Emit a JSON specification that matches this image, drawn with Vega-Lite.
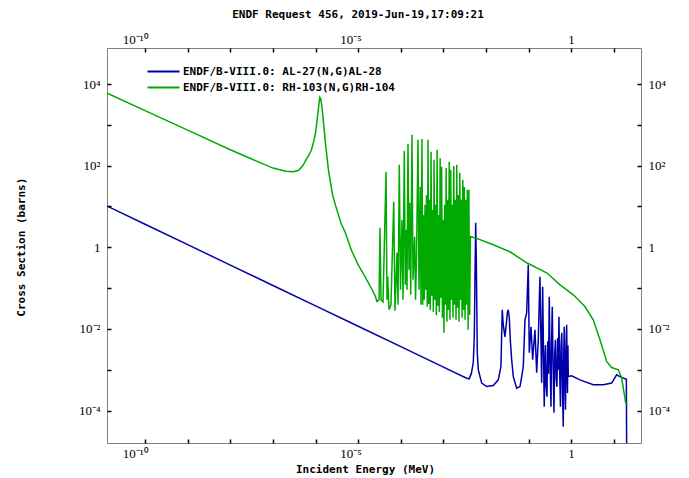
{
  "$schema": "https://vega.github.io/schema/vega-lite/v6.json",
  "width": 534,
  "height": 395,
  "autosize": {"type": "none"},
  "padding": {"left": 107, "top": 48, "right": 48, "bottom": 35},
  "background": "white",
  "title": {"text": "ENDF Request 456, 2019-Jun-19,17:09:21", "font": "DejaVu Sans Mono", "fontSize": 11, "fontWeight": "bold", "color": "#000", "anchor": "middle", "frame": "group", "dx": -16, "offset": 13},
  "config": {
    "view": {"stroke": "#808080", "strokeWidth": 1},
    "axis": {"domain": false, "grid": false, "labelColor": "#000", "labelFont": "Liberation Serif", "labelFontSize": 13, "labelOverlap": false, "labelFlush": false, "labelBound": false, "titleColor": "#000", "titleFont": "DejaVu Sans Mono", "titleFontSize": 11, "titleFontWeight": "bold"}
  },
  "data": {"values": [
    {"energy": 1e-11, "xs": 11.6, "reaction": "ENDF/B-VIII.0: AL-27(N,G)AL-28"},
    {"energy": 1e-10, "xs": 3.67, "reaction": "ENDF/B-VIII.0: AL-27(N,G)AL-28"},
    {"energy": 1e-9, "xs": 1.16, "reaction": "ENDF/B-VIII.0: AL-27(N,G)AL-28"},
    {"energy": 1e-8, "xs": 0.367, "reaction": "ENDF/B-VIII.0: AL-27(N,G)AL-28"},
    {"energy": 1e-7, "xs": 0.116, "reaction": "ENDF/B-VIII.0: AL-27(N,G)AL-28"},
    {"energy": 1e-6, "xs": 0.0367, "reaction": "ENDF/B-VIII.0: AL-27(N,G)AL-28"},
    {"energy": 1e-5, "xs": 0.0116, "reaction": "ENDF/B-VIII.0: AL-27(N,G)AL-28"},
    {"energy": 1e-4, "xs": 0.00367, "reaction": "ENDF/B-VIII.0: AL-27(N,G)AL-28"},
    {"energy": 1e-3, "xs": 0.00116, "reaction": "ENDF/B-VIII.0: AL-27(N,G)AL-28"},
    {"energy": 3.5e-3, "xs": 6.2e-4, "reaction": "ENDF/B-VIII.0: AL-27(N,G)AL-28"},
    {"energy": 4.0e-3, "xs": 6.0e-4, "reaction": "ENDF/B-VIII.0: AL-27(N,G)AL-28"},
    {"energy": 4.5e-3, "xs": 8.0e-4, "reaction": "ENDF/B-VIII.0: AL-27(N,G)AL-28"},
    {"energy": 5.0e-3, "xs": 1.48e-3, "reaction": "ENDF/B-VIII.0: AL-27(N,G)AL-28"},
    {"energy": 5.28e-3, "xs": 6.4e-3, "reaction": "ENDF/B-VIII.0: AL-27(N,G)AL-28"},
    {"energy": 5.48e-3, "xs": 0.16, "reaction": "ENDF/B-VIII.0: AL-27(N,G)AL-28"},
    {"energy": 5.7e-3, "xs": 3.98, "reaction": "ENDF/B-VIII.0: AL-27(N,G)AL-28"},
    {"energy": 5.89e-3, "xs": 0.494, "reaction": "ENDF/B-VIII.0: AL-27(N,G)AL-28"},
    {"energy": 6.21e-3, "xs": 2.6e-3, "reaction": "ENDF/B-VIII.0: AL-27(N,G)AL-28"},
    {"energy": 6.56e-3, "xs": 9.95e-4, "reaction": "ENDF/B-VIII.0: AL-27(N,G)AL-28"},
    {"energy": 7.88e-3, "xs": 4.7e-4, "reaction": "ENDF/B-VIII.0: AL-27(N,G)AL-28"},
    {"energy": 0.01032, "xs": 3.87e-4, "reaction": "ENDF/B-VIII.0: AL-27(N,G)AL-28"},
    {"energy": 0.01472, "xs": 4.1e-4, "reaction": "ENDF/B-VIII.0: AL-27(N,G)AL-28"},
    {"energy": 0.0193, "xs": 5.65e-4, "reaction": "ENDF/B-VIII.0: AL-27(N,G)AL-28"},
    {"energy": 0.0223, "xs": 1.2e-3, "reaction": "ENDF/B-VIII.0: AL-27(N,G)AL-28"},
    {"energy": 0.0239, "xs": 0.0294, "reaction": "ENDF/B-VIII.0: AL-27(N,G)AL-28"},
    {"energy": 0.0253, "xs": 0.0124, "reaction": "ENDF/B-VIII.0: AL-27(N,G)AL-28"},
    {"energy": 0.0277, "xs": 6.4e-3, "reaction": "ENDF/B-VIII.0: AL-27(N,G)AL-28"},
    {"energy": 0.0304, "xs": 0.0167, "reaction": "ENDF/B-VIII.0: AL-27(N,G)AL-28"},
    {"energy": 0.0317, "xs": 0.0262, "reaction": "ENDF/B-VIII.0: AL-27(N,G)AL-28"},
    {"energy": 0.0331, "xs": 0.0294, "reaction": "ENDF/B-VIII.0: AL-27(N,G)AL-28"},
    {"energy": 0.035, "xs": 0.0187, "reaction": "ENDF/B-VIII.0: AL-27(N,G)AL-28"},
    {"energy": 0.0369, "xs": 5.4e-3, "reaction": "ENDF/B-VIII.0: AL-27(N,G)AL-28"},
    {"energy": 0.0398, "xs": 1.75e-3, "reaction": "ENDF/B-VIII.0: AL-27(N,G)AL-28"},
    {"energy": 0.0434, "xs": 6.8e-4, "reaction": "ENDF/B-VIII.0: AL-27(N,G)AL-28"},
    {"energy": 0.0521, "xs": 3.54e-4, "reaction": "ENDF/B-VIII.0: AL-27(N,G)AL-28"},
    {"energy": 0.0624, "xs": 3.87e-4, "reaction": "ENDF/B-VIII.0: AL-27(N,G)AL-28"},
    {"energy": 0.0683, "xs": 6.8e-4, "reaction": "ENDF/B-VIII.0: AL-27(N,G)AL-28"},
    {"energy": 0.0745, "xs": 1.2e-3, "reaction": "ENDF/B-VIII.0: AL-27(N,G)AL-28"},
    {"energy": 0.0816, "xs": 0.0167, "reaction": "ENDF/B-VIII.0: AL-27(N,G)AL-28"},
    {"energy": 0.0895, "xs": 0.0248, "reaction": "ENDF/B-VIII.0: AL-27(N,G)AL-28"},
    {"energy": 0.0975, "xs": 0.372, "reaction": "ENDF/B-VIII.0: AL-27(N,G)AL-28"},
    {"energy": 0.103, "xs": 2.6e-3, "reaction": "ENDF/B-VIII.0: AL-27(N,G)AL-28"},
    {"energy": 0.113, "xs": 0.0113, "reaction": "ENDF/B-VIII.0: AL-27(N,G)AL-28"},
    {"energy": 0.1236, "xs": 1.75e-3, "reaction": "ENDF/B-VIII.0: AL-27(N,G)AL-28"},
    {"energy": 0.14, "xs": 9.5e-3, "reaction": "ENDF/B-VIII.0: AL-27(N,G)AL-28"},
    {"energy": 0.1535, "xs": 8.4e-4, "reaction": "ENDF/B-VIII.0: AL-27(N,G)AL-28"},
    {"energy": 0.1675, "xs": 5.4e-3, "reaction": "ENDF/B-VIII.0: AL-27(N,G)AL-28"},
    {"energy": 0.183, "xs": 0.189, "reaction": "ENDF/B-VIII.0: AL-27(N,G)AL-28"},
    {"energy": 0.201, "xs": 4.8e-4, "reaction": "ENDF/B-VIII.0: AL-27(N,G)AL-28"},
    {"energy": 0.212, "xs": 0.1076, "reaction": "ENDF/B-VIII.0: AL-27(N,G)AL-28"},
    {"energy": 0.2312, "xs": 1.23e-4, "reaction": "ENDF/B-VIII.0: AL-27(N,G)AL-28"},
    {"energy": 0.240, "xs": 1.5e-3, "reaction": "ENDF/B-VIII.0: AL-27(N,G)AL-28"},
    {"energy": 0.2466, "xs": 4.0e-3, "reaction": "ENDF/B-VIII.0: AL-27(N,G)AL-28"},
    {"energy": 0.256, "xs": 4.0e-4, "reaction": "ENDF/B-VIII.0: AL-27(N,G)AL-28"},
    {"energy": 0.268, "xs": 2.17e-4, "reaction": "ENDF/B-VIII.0: AL-27(N,G)AL-28"},
    {"energy": 0.279, "xs": 5.0e-3, "reaction": "ENDF/B-VIII.0: AL-27(N,G)AL-28"},
    {"energy": 0.291, "xs": 8.0e-4, "reaction": "ENDF/B-VIII.0: AL-27(N,G)AL-28"},
    {"energy": 0.303, "xs": 0.0612, "reaction": "ENDF/B-VIII.0: AL-27(N,G)AL-28"},
    {"energy": 0.316, "xs": 2.0e-3, "reaction": "ENDF/B-VIII.0: AL-27(N,G)AL-28"},
    {"energy": 0.3327, "xs": 1.23e-4, "reaction": "ENDF/B-VIII.0: AL-27(N,G)AL-28"},
    {"energy": 0.343, "xs": 4.0e-3, "reaction": "ENDF/B-VIII.0: AL-27(N,G)AL-28"},
    {"energy": 0.3565, "xs": 0.0348, "reaction": "ENDF/B-VIII.0: AL-27(N,G)AL-28"},
    {"energy": 0.372, "xs": 1.5e-3, "reaction": "ENDF/B-VIII.0: AL-27(N,G)AL-28"},
    {"energy": 0.391, "xs": 8.8e-5, "reaction": "ENDF/B-VIII.0: AL-27(N,G)AL-28"},
    {"energy": 0.407, "xs": 2.5e-3, "reaction": "ENDF/B-VIII.0: AL-27(N,G)AL-28"},
    {"energy": 0.4236, "xs": 5.4e-3, "reaction": "ENDF/B-VIII.0: AL-27(N,G)AL-28"},
    {"energy": 0.44, "xs": 6.0e-4, "reaction": "ENDF/B-VIII.0: AL-27(N,G)AL-28"},
    {"energy": 0.459, "xs": 3.8e-4, "reaction": "ENDF/B-VIII.0: AL-27(N,G)AL-28"},
    {"energy": 0.478, "xs": 6.0e-3, "reaction": "ENDF/B-VIII.0: AL-27(N,G)AL-28"},
    {"energy": 0.494, "xs": 1.0e-3, "reaction": "ENDF/B-VIII.0: AL-27(N,G)AL-28"},
    {"energy": 0.512, "xs": 0.0198, "reaction": "ENDF/B-VIII.0: AL-27(N,G)AL-28"},
    {"energy": 0.532, "xs": 8.0e-4, "reaction": "ENDF/B-VIII.0: AL-27(N,G)AL-28"},
    {"energy": 0.555, "xs": 1.23e-4, "reaction": "ENDF/B-VIII.0: AL-27(N,G)AL-28"},
    {"energy": 0.574, "xs": 4.0e-3, "reaction": "ENDF/B-VIII.0: AL-27(N,G)AL-28"},
    {"energy": 0.5957, "xs": 8.0e-3, "reaction": "ENDF/B-VIII.0: AL-27(N,G)AL-28"},
    {"energy": 0.62, "xs": 3.0e-4, "reaction": "ENDF/B-VIII.0: AL-27(N,G)AL-28"},
    {"energy": 0.6457, "xs": 3.98e-5, "reaction": "ENDF/B-VIII.0: AL-27(N,G)AL-28"},
    {"energy": 0.662, "xs": 2.5e-3, "reaction": "ENDF/B-VIII.0: AL-27(N,G)AL-28"},
    {"energy": 0.682, "xs": 0.0113, "reaction": "ENDF/B-VIII.0: AL-27(N,G)AL-28"},
    {"energy": 0.705, "xs": 5.0e-4, "reaction": "ENDF/B-VIII.0: AL-27(N,G)AL-28"},
    {"energy": 0.7278, "xs": 1.04e-4, "reaction": "ENDF/B-VIII.0: AL-27(N,G)AL-28"},
    {"energy": 0.752, "xs": 3.0e-3, "reaction": "ENDF/B-VIII.0: AL-27(N,G)AL-28"},
    {"energy": 0.776, "xs": 0.0126, "reaction": "ENDF/B-VIII.0: AL-27(N,G)AL-28"},
    {"energy": 0.794, "xs": 1.0e-3, "reaction": "ENDF/B-VIII.0: AL-27(N,G)AL-28"},
    {"energy": 0.81, "xs": 2.7e-4, "reaction": "ENDF/B-VIII.0: AL-27(N,G)AL-28"},
    {"energy": 0.83, "xs": 4.0e-3, "reaction": "ENDF/B-VIII.0: AL-27(N,G)AL-28"},
    {"energy": 0.846, "xs": 6.8e-4, "reaction": "ENDF/B-VIII.0: AL-27(N,G)AL-28"},
    {"energy": 1.016, "xs": 7.1e-4, "reaction": "ENDF/B-VIII.0: AL-27(N,G)AL-28"},
    {"energy": 1.59, "xs": 5.65e-4, "reaction": "ENDF/B-VIII.0: AL-27(N,G)AL-28"},
    {"energy": 3.26, "xs": 4.27e-4, "reaction": "ENDF/B-VIII.0: AL-27(N,G)AL-28"},
    {"energy": 5.6, "xs": 4.27e-4, "reaction": "ENDF/B-VIII.0: AL-27(N,G)AL-28"},
    {"energy": 8.81, "xs": 4.7e-4, "reaction": "ENDF/B-VIII.0: AL-27(N,G)AL-28"},
    {"energy": 11.5, "xs": 7.5e-4, "reaction": "ENDF/B-VIII.0: AL-27(N,G)AL-28"},
    {"energy": 13.8, "xs": 6.8e-4, "reaction": "ENDF/B-VIII.0: AL-27(N,G)AL-28"},
    {"energy": 16.2, "xs": 6.3e-4, "reaction": "ENDF/B-VIII.0: AL-27(N,G)AL-28"},
    {"energy": 19.5, "xs": 5.8e-4, "reaction": "ENDF/B-VIII.0: AL-27(N,G)AL-28"},
    {"energy": 20, "xs": 1e-6, "reaction": "ENDF/B-VIII.0: AL-27(N,G)AL-28"},
    {"energy": 1e-11, "xs": 6780, "reaction": "ENDF/B-VIII.0: RH-103(N,G)RH-104"},
    {"energy": 1e-10, "xs": 2240, "reaction": "ENDF/B-VIII.0: RH-103(N,G)RH-104"},
    {"energy": 1e-9, "xs": 741, "reaction": "ENDF/B-VIII.0: RH-103(N,G)RH-104"},
    {"energy": 1e-8, "xs": 245, "reaction": "ENDF/B-VIII.0: RH-103(N,G)RH-104"},
    {"energy": 1e-7, "xs": 87.3, "reaction": "ENDF/B-VIII.0: RH-103(N,G)RH-104"},
    {"energy": 2e-7, "xs": 72.9, "reaction": "ENDF/B-VIII.0: RH-103(N,G)RH-104"},
    {"energy": 3e-7, "xs": 70.8, "reaction": "ENDF/B-VIII.0: RH-103(N,G)RH-104"},
    {"energy": 4e-7, "xs": 77.1, "reaction": "ENDF/B-VIII.0: RH-103(N,G)RH-104"},
    {"energy": 5e-7, "xs": 99.5, "reaction": "ENDF/B-VIII.0: RH-103(N,G)RH-104"},
    {"energy": 6e-7, "xs": 140, "reaction": "ENDF/B-VIII.0: RH-103(N,G)RH-104"},
    {"energy": 7e-7, "xs": 185, "reaction": "ENDF/B-VIII.0: RH-103(N,G)RH-104"},
    {"energy": 8e-7, "xs": 245, "reaction": "ENDF/B-VIII.0: RH-103(N,G)RH-104"},
    {"energy": 9e-7, "xs": 385, "reaction": "ENDF/B-VIII.0: RH-103(N,G)RH-104"},
    {"energy": 1e-6, "xs": 640, "reaction": "ENDF/B-VIII.0: RH-103(N,G)RH-104"},
    {"energy": 1.1e-6, "xs": 1490, "reaction": "ENDF/B-VIII.0: RH-103(N,G)RH-104"},
    {"energy": 1.2e-6, "xs": 3290, "reaction": "ENDF/B-VIII.0: RH-103(N,G)RH-104"},
    {"energy": 1.26e-6, "xs": 4750, "reaction": "ENDF/B-VIII.0: RH-103(N,G)RH-104"},
    {"energy": 1.32e-6, "xs": 4360, "reaction": "ENDF/B-VIII.0: RH-103(N,G)RH-104"},
    {"energy": 1.4e-6, "xs": 2940, "reaction": "ENDF/B-VIII.0: RH-103(N,G)RH-104"},
    {"energy": 1.5e-6, "xs": 1490, "reaction": "ENDF/B-VIII.0: RH-103(N,G)RH-104"},
    {"energy": 1.7e-6, "xs": 364, "reaction": "ENDF/B-VIII.0: RH-103(N,G)RH-104"},
    {"energy": 2e-6, "xs": 79, "reaction": "ENDF/B-VIII.0: RH-103(N,G)RH-104"},
    {"energy": 2.5e-6, "xs": 19.4, "reaction": "ENDF/B-VIII.0: RH-103(N,G)RH-104"},
    {"energy": 3e-6, "xs": 9.8, "reaction": "ENDF/B-VIII.0: RH-103(N,G)RH-104"},
    {"energy": 4e-6, "xs": 3.77, "reaction": "ENDF/B-VIII.0: RH-103(N,G)RH-104"},
    {"energy": 5e-6, "xs": 2.27, "reaction": "ENDF/B-VIII.0: RH-103(N,G)RH-104"},
    {"energy": 7e-6, "xs": 0.82, "reaction": "ENDF/B-VIII.0: RH-103(N,G)RH-104"},
    {"energy": 1e-5, "xs": 0.372, "reaction": "ENDF/B-VIII.0: RH-103(N,G)RH-104"},
    {"energy": 1.5e-5, "xs": 0.179, "reaction": "ENDF/B-VIII.0: RH-103(N,G)RH-104"},
    {"energy": 2e-5, "xs": 0.102, "reaction": "ENDF/B-VIII.0: RH-103(N,G)RH-104"},
    {"energy": 2.5e-5, "xs": 0.0648, "reaction": "ENDF/B-VIII.0: RH-103(N,G)RH-104"},
    {"energy": 2.76e-5, "xs": 0.047, "reaction": "ENDF/B-VIII.0: RH-103(N,G)RH-104"},
    {"energy": 3.08e-5, "xs": 0.0516, "reaction": "ENDF/B-VIII.0: RH-103(N,G)RH-104"},
    {"energy": 3.24e-5, "xs": 3.0, "reaction": "ENDF/B-VIII.0: RH-103(N,G)RH-104"},
    {"energy": 3.43e-5, "xs": 0.0516, "reaction": "ENDF/B-VIII.0: RH-103(N,G)RH-104"},
    {"energy": 3.82e-5, "xs": 0.0461, "reaction": "ENDF/B-VIII.0: RH-103(N,G)RH-104"},
    {"energy": 4.49e-5, "xs": 70.8, "reaction": "ENDF/B-VIII.0: RH-103(N,G)RH-104"},
    {"energy": 4.73e-5, "xs": 0.0516, "reaction": "ENDF/B-VIII.0: RH-103(N,G)RH-104"},
    {"energy": 4.92e-5, "xs": 0.189, "reaction": "ENDF/B-VIII.0: RH-103(N,G)RH-104"},
    {"energy": 5.27e-5, "xs": 0.0294, "reaction": "ENDF/B-VIII.0: RH-103(N,G)RH-104"},
    {"energy": 5.87e-5, "xs": 0.039, "reaction": "ENDF/B-VIII.0: RH-103(N,G)RH-104"},
    {"energy": 6.81e-5, "xs": 13.0, "reaction": "ENDF/B-VIII.0: RH-103(N,G)RH-104"},
    {"energy": 7.29e-5, "xs": 0.0278, "reaction": "ENDF/B-VIII.0: RH-103(N,G)RH-104"},
    {"energy": 8.13e-5, "xs": 0.733, "reaction": "ENDF/B-VIII.0: RH-103(N,G)RH-104"},
    {"energy": 8.58e-5, "xs": 0.039, "reaction": "ENDF/B-VIII.0: RH-103(N,G)RH-104"},
    {"energy": 9.2e-5, "xs": 105, "reaction": "ENDF/B-VIII.0: RH-103(N,G)RH-104"},
    {"energy": 9.82e-5, "xs": 0.0908, "reaction": "ENDF/B-VIII.0: RH-103(N,G)RH-104"},
    {"energy": 1.064e-4, "xs": 4.72, "reaction": "ENDF/B-VIII.0: RH-103(N,G)RH-104"},
    {"energy": 1.124e-4, "xs": 0.0516, "reaction": "ENDF/B-VIII.0: RH-103(N,G)RH-104"},
    {"energy": 1.205e-4, "xs": 232, "reaction": "ENDF/B-VIII.0: RH-103(N,G)RH-104"},
    {"energy": 1.272e-4, "xs": 0.12, "reaction": "ENDF/B-VIII.0: RH-103(N,G)RH-104"},
    {"energy": 1.343e-4, "xs": 2.68, "reaction": "ENDF/B-VIII.0: RH-103(N,G)RH-104"},
    {"energy": 1.395e-4, "xs": 0.0908, "reaction": "ENDF/B-VIII.0: RH-103(N,G)RH-104"},
    {"energy": 1.472e-4, "xs": 344, "reaction": "ENDF/B-VIII.0: RH-103(N,G)RH-104"},
    {"energy": 1.553e-4, "xs": 0.281, "reaction": "ENDF/B-VIII.0: RH-103(N,G)RH-104"},
    {"energy": 1.614e-4, "xs": 12.3, "reaction": "ENDF/B-VIII.0: RH-103(N,G)RH-104"},
    {"energy": 1.703e-4, "xs": 0.0685, "reaction": "ENDF/B-VIII.0: RH-103(N,G)RH-104"},
    {"energy": 1.828e-4, "xs": 572, "reaction": "ENDF/B-VIII.0: RH-103(N,G)RH-104"},
    {"energy": 1.928e-4, "xs": 0.16, "reaction": "ENDF/B-VIII.0: RH-103(N,G)RH-104"},
    {"energy": 2.113e-4, "xs": 1.81, "reaction": "ENDF/B-VIII.0: RH-103(N,G)RH-104"},
    {"energy": 2.208e-4, "xs": 0.0516, "reaction": "ENDF/B-VIII.0: RH-103(N,G)RH-104"},
    {"energy": 2.329e-4, "xs": 0.494, "reaction": "ENDF/B-VIII.0: RH-103(N,G)RH-104"},
    {"energy": 2.525e-4, "xs": 431, "reaction": "ENDF/B-VIII.0: RH-103(N,G)RH-104"},
    {"energy": 2.667e-4, "xs": 0.0908, "reaction": "ENDF/B-VIII.0: RH-103(N,G)RH-104"},
    {"energy": 2.858e-4, "xs": 30.4, "reaction": "ENDF/B-VIII.0: RH-103(N,G)RH-104"},
    {"energy": 2.97e-4, "xs": 0.039, "reaction": "ENDF/B-VIII.0: RH-103(N,G)RH-104"},
    {"energy": 3.13e-4, "xs": 450, "reaction": "ENDF/B-VIII.0: RH-103(N,G)RH-104"},
    {"energy": 3.26e-4, "xs": 0.039, "reaction": "ENDF/B-VIII.0: RH-103(N,G)RH-104"},
    {"energy": 3.40e-4, "xs": 6.2, "reaction": "ENDF/B-VIII.0: RH-103(N,G)RH-104"},
    {"energy": 3.54e-4, "xs": 0.052, "reaction": "ENDF/B-VIII.0: RH-103(N,G)RH-104"},
    {"energy": 3.69e-4, "xs": 11, "reaction": "ENDF/B-VIII.0: RH-103(N,G)RH-104"},
    {"energy": 3.84e-4, "xs": 0.091, "reaction": "ENDF/B-VIII.0: RH-103(N,G)RH-104"},
    {"energy": 4.00e-4, "xs": 19, "reaction": "ENDF/B-VIII.0: RH-103(N,G)RH-104"},
    {"energy": 4.17e-4, "xs": 0.035, "reaction": "ENDF/B-VIII.0: RH-103(N,G)RH-104"},
    {"energy": 4.34e-4, "xs": 430, "reaction": "ENDF/B-VIII.0: RH-103(N,G)RH-104"},
    {"energy": 4.52e-4, "xs": 0.041, "reaction": "ENDF/B-VIII.0: RH-103(N,G)RH-104"},
    {"energy": 4.71e-4, "xs": 14.6, "reaction": "ENDF/B-VIII.0: RH-103(N,G)RH-104"},
    {"energy": 4.91e-4, "xs": 0.029, "reaction": "ENDF/B-VIII.0: RH-103(N,G)RH-104"},
    {"energy": 5.11e-4, "xs": 220, "reaction": "ENDF/B-VIII.0: RH-103(N,G)RH-104"},
    {"energy": 5.32e-4, "xs": 0.0646, "reaction": "ENDF/B-VIII.0: RH-103(N,G)RH-104"},
    {"energy": 5.55e-4, "xs": 8.3, "reaction": "ENDF/B-VIII.0: RH-103(N,G)RH-104"},
    {"energy": 5.78e-4, "xs": 0.026, "reaction": "ENDF/B-VIII.0: RH-103(N,G)RH-104"},
    {"energy": 6.02e-4, "xs": 140, "reaction": "ENDF/B-VIII.0: RH-103(N,G)RH-104"},
    {"energy": 6.27e-4, "xs": 0.052, "reaction": "ENDF/B-VIII.0: RH-103(N,G)RH-104"},
    {"energy": 6.53e-4, "xs": 11, "reaction": "ENDF/B-VIII.0: RH-103(N,G)RH-104"},
    {"energy": 6.80e-4, "xs": 0.022, "reaction": "ENDF/B-VIII.0: RH-103(N,G)RH-104"},
    {"energy": 7.09e-4, "xs": 245, "reaction": "ENDF/B-VIII.0: RH-103(N,G)RH-104"},
    {"energy": 7.38e-4, "xs": 0.037, "reaction": "ENDF/B-VIII.0: RH-103(N,G)RH-104"},
    {"energy": 7.69e-4, "xs": 6.2, "reaction": "ENDF/B-VIII.0: RH-103(N,G)RH-104"},
    {"energy": 8.01e-4, "xs": 0.026, "reaction": "ENDF/B-VIII.0: RH-103(N,G)RH-104"},
    {"energy": 8.35e-4, "xs": 155, "reaction": "ENDF/B-VIII.0: RH-103(N,G)RH-104"},
    {"energy": 8.70e-4, "xs": 0.058, "reaction": "ENDF/B-VIII.0: RH-103(N,G)RH-104"},
    {"energy": 9.06e-4, "xs": 94, "reaction": "ENDF/B-VIII.0: RH-103(N,G)RH-104"},
    {"energy": 9.44e-4, "xs": 0.0187, "reaction": "ENDF/B-VIII.0: RH-103(N,G)RH-104"},
    {"energy": 9.83e-4, "xs": 4.7, "reaction": "ENDF/B-VIII.0: RH-103(N,G)RH-104"},
    {"energy": 1.024e-3, "xs": 0.0081, "reaction": "ENDF/B-VIII.0: RH-103(N,G)RH-104"},
    {"energy": 1.067e-3, "xs": 11, "reaction": "ENDF/B-VIII.0: RH-103(N,G)RH-104"},
    {"energy": 1.111e-3, "xs": 0.039, "reaction": "ENDF/B-VIII.0: RH-103(N,G)RH-104"},
    {"energy": 1.157e-3, "xs": 88, "reaction": "ENDF/B-VIII.0: RH-103(N,G)RH-104"},
    {"energy": 1.206e-3, "xs": 0.015, "reaction": "ENDF/B-VIII.0: RH-103(N,G)RH-104"},
    {"energy": 1.256e-3, "xs": 14.6, "reaction": "ENDF/B-VIII.0: RH-103(N,G)RH-104"},
    {"energy": 1.308e-3, "xs": 0.029, "reaction": "ENDF/B-VIII.0: RH-103(N,G)RH-104"},
    {"energy": 1.363e-3, "xs": 125, "reaction": "ENDF/B-VIII.0: RH-103(N,G)RH-104"},
    {"energy": 1.420e-3, "xs": 0.0167, "reaction": "ENDF/B-VIII.0: RH-103(N,G)RH-104"},
    {"energy": 1.479e-3, "xs": 79, "reaction": "ENDF/B-VIII.0: RH-103(N,G)RH-104"},
    {"energy": 1.541e-3, "xs": 0.052, "reaction": "ENDF/B-VIII.0: RH-103(N,G)RH-104"},
    {"energy": 1.605e-3, "xs": 11, "reaction": "ENDF/B-VIII.0: RH-103(N,G)RH-104"},
    {"energy": 1.672e-3, "xs": 0.0187, "reaction": "ENDF/B-VIII.0: RH-103(N,G)RH-104"},
    {"energy": 1.742e-3, "xs": 98, "reaction": "ENDF/B-VIII.0: RH-103(N,G)RH-104"},
    {"energy": 1.814e-3, "xs": 0.039, "reaction": "ENDF/B-VIII.0: RH-103(N,G)RH-104"},
    {"energy": 1.890e-3, "xs": 14.6, "reaction": "ENDF/B-VIII.0: RH-103(N,G)RH-104"},
    {"energy": 1.969e-3, "xs": 0.0167, "reaction": "ENDF/B-VIII.0: RH-103(N,G)RH-104"},
    {"energy": 2.051e-3, "xs": 105, "reaction": "ENDF/B-VIII.0: RH-103(N,G)RH-104"},
    {"energy": 2.136e-3, "xs": 0.033, "reaction": "ENDF/B-VIII.0: RH-103(N,G)RH-104"},
    {"energy": 2.226e-3, "xs": 19, "reaction": "ENDF/B-VIII.0: RH-103(N,G)RH-104"},
    {"energy": 2.318e-3, "xs": 0.015, "reaction": "ENDF/B-VIII.0: RH-103(N,G)RH-104"},
    {"energy": 2.415e-3, "xs": 67, "reaction": "ENDF/B-VIII.0: RH-103(N,G)RH-104"},
    {"energy": 2.516e-3, "xs": 0.052, "reaction": "ENDF/B-VIII.0: RH-103(N,G)RH-104"},
    {"energy": 2.621e-3, "xs": 14.6, "reaction": "ENDF/B-VIII.0: RH-103(N,G)RH-104"},
    {"energy": 2.730e-3, "xs": 0.0187, "reaction": "ENDF/B-VIII.0: RH-103(N,G)RH-104"},
    {"energy": 2.844e-3, "xs": 45, "reaction": "ENDF/B-VIII.0: RH-103(N,G)RH-104"},
    {"energy": 2.962e-3, "xs": 0.029, "reaction": "ENDF/B-VIII.0: RH-103(N,G)RH-104"},
    {"energy": 3.086e-3, "xs": 30, "reaction": "ENDF/B-VIII.0: RH-103(N,G)RH-104"},
    {"energy": 3.214e-3, "xs": 0.0167, "reaction": "ENDF/B-VIII.0: RH-103(N,G)RH-104"},
    {"energy": 3.348e-3, "xs": 14.6, "reaction": "ENDF/B-VIII.0: RH-103(N,G)RH-104"},
    {"energy": 3.488e-3, "xs": 0.039, "reaction": "ENDF/B-VIII.0: RH-103(N,G)RH-104"},
    {"energy": 3.633e-3, "xs": 25.7, "reaction": "ENDF/B-VIII.0: RH-103(N,G)RH-104"},
    {"energy": 3.785e-3, "xs": 0.0095, "reaction": "ENDF/B-VIII.0: RH-103(N,G)RH-104"},
    {"energy": 3.942e-3, "xs": 25.7, "reaction": "ENDF/B-VIII.0: RH-103(N,G)RH-104"},
    {"energy": 4.107e-3, "xs": 0.022, "reaction": "ENDF/B-VIII.0: RH-103(N,G)RH-104"},
    {"energy": 4.28e-3, "xs": 1.84, "reaction": "ENDF/B-VIII.0: RH-103(N,G)RH-104"},
    {"energy": 5.79e-3, "xs": 1.68, "reaction": "ENDF/B-VIII.0: RH-103(N,G)RH-104"},
    {"energy": 0.01472, "xs": 1.15, "reaction": "ENDF/B-VIII.0: RH-103(N,G)RH-104"},
    {"energy": 0.0363, "xs": 0.776, "reaction": "ENDF/B-VIII.0: RH-103(N,G)RH-104"},
    {"energy": 0.0895, "xs": 0.417, "reaction": "ENDF/B-VIII.0: RH-103(N,G)RH-104"},
    {"energy": 0.264, "xs": 0.237, "reaction": "ENDF/B-VIII.0: RH-103(N,G)RH-104"},
    {"energy": 0.541, "xs": 0.12, "reaction": "ENDF/B-VIII.0: RH-103(N,G)RH-104"},
    {"energy": 1.11, "xs": 0.0685, "reaction": "ENDF/B-VIII.0: RH-103(N,G)RH-104"},
    {"energy": 2.08, "xs": 0.0354, "reaction": "ENDF/B-VIII.0: RH-103(N,G)RH-104"},
    {"energy": 3.26, "xs": 0.0167, "reaction": "ENDF/B-VIII.0: RH-103(N,G)RH-104"},
    {"energy": 4.69, "xs": 0.0054, "reaction": "ENDF/B-VIII.0: RH-103(N,G)RH-104"},
    {"energy": 6.73, "xs": 0.00159, "reaction": "ENDF/B-VIII.0: RH-103(N,G)RH-104"},
    {"energy": 8.81, "xs": 0.00113, "reaction": "ENDF/B-VIII.0: RH-103(N,G)RH-104"},
    {"energy": 12.6, "xs": 0.000995, "reaction": "ENDF/B-VIII.0: RH-103(N,G)RH-104"},
    {"energy": 15.1, "xs": 0.000633, "reaction": "ENDF/B-VIII.0: RH-103(N,G)RH-104"},
    {"energy": 18.8, "xs": 0.000155, "reaction": "ENDF/B-VIII.0: RH-103(N,G)RH-104"},
    {"energy": 20, "xs": 0.00014, "reaction": "ENDF/B-VIII.0: RH-103(N,G)RH-104"}
  ]},
  "layer": [
    {
      "mark": {"type": "line", "strokeWidth": 1.5, "clip": true},
      "encoding": {
        "x": {"field": "energy", "type": "quantitative",
          "scale": {"type": "log", "domain": [1.28e-11, 43], "nice": false},
          "axis": {"orient": "bottom", "zindex": 1, "ticks": true, "tickOpacity": 1, "values": [1e-10, 1e-9, 1e-8, 1e-7, 1e-6, 1e-5, 1e-4, 1e-3, 1e-2, 0.1, 1, 10], "tickSize": -4, "tickColor": "#000", "tickWidth": 1.5, "labelPadding": 8, "labelAlign": "right", "labelOffset": 3,
            "labelExpr": "datum.value == 1 ? '1' : datum.value == 1e-10 ? '10⁻¹⁰' : datum.value == 1e-5 ? '10⁻⁵' : ''",
            "title": "Incident Energy (MeV)", "titleX": 258, "titleY": 26, "titleAlign": "center", "titleBaseline": "middle"}},
        "y": {"field": "xs", "type": "quantitative",
          "scale": {"type": "log", "domain": [1.6e-5, 7.65e4], "nice": false},
          "axis": {"orient": "left", "zindex": 1, "ticks": true, "tickOpacity": 1, "values": [1e-4, 1e-3, 1e-2, 0.1, 1, 10, 100, 1000, 10000], "tickSize": -4, "tickColor": "#000", "tickWidth": 1.5, "labelPadding": 11,
            "labelExpr": "datum.value == 10000 ? '10⁴' : datum.value == 100 ? '10²' : datum.value == 1 ? '1' : datum.value == 0.01 ? '10⁻²' : datum.value == 1e-4 ? '10⁻⁴' : ''",
            "title": "Cross Section (barns)", "titleX": -86, "titleY": 198.7, "titleAngle": -90, "titleAlign": "center", "titleBaseline": "middle"}},
        "color": {"field": "reaction", "type": "nominal",
          "scale": {"domain": ["ENDF/B-VIII.0: AL-27(N,G)AL-28", "ENDF/B-VIII.0: RH-103(N,G)RH-104"], "range": ["#0000AA", "#00AA00"]},
          "legend": {"orient": "none", "legendX": 51, "legendY": 18, "title": null, "symbolType": "M-8,0L8,0", "symbolSize": 16, "symbolStrokeWidth": 2, "labelFont": "DejaVu Sans Mono", "labelFontSize": 11, "labelFontWeight": "bold", "labelColor": "#000", "labelOffset": 14, "rowPadding": 4, "padding": 0, "labelLimit": 400}}
      }
    },
    {
      "mark": {"type": "point", "opacity": 0},
      "encoding": {
        "x": {"field": "energy", "type": "quantitative",
          "scale": {"type": "log", "domain": [1.28e-11, 43], "nice": false},
          "axis": {"orient": "top", "zindex": 1, "ticks": true, "tickOpacity": 1, "values": [1e-10, 1e-9, 1e-8, 1e-7, 1e-6, 1e-5, 1e-4, 1e-3, 1e-2, 0.1, 1, 10], "tickSize": -4, "tickColor": "#000", "tickWidth": 1.5, "labelPadding": 6, "labelAlign": "right", "labelOffset": 3, "title": null,
            "labelExpr": "datum.value == 1 ? '1' : datum.value == 1e-10 ? '10⁻¹⁰' : datum.value == 1e-5 ? '10⁻⁵' : ''"}},
        "y": {"field": "xs", "type": "quantitative",
          "scale": {"type": "log", "domain": [1.6e-5, 7.65e4], "nice": false},
          "axis": {"orient": "right", "zindex": 1, "ticks": true, "tickOpacity": 1, "values": [1e-4, 1e-3, 1e-2, 0.1, 1, 10, 100, 1000, 10000], "tickSize": -4, "tickColor": "#000", "tickWidth": 1.5, "labelPadding": 11, "title": null,
            "labelExpr": "datum.value == 10000 ? '10⁴' : datum.value == 100 ? '10²' : datum.value == 1 ? '1' : datum.value == 0.01 ? '10⁻²' : datum.value == 1e-4 ? '10⁻⁴' : ''"}}
      }
    }
  ],
  "resolve": {"axis": {"x": "independent", "y": "independent"}}
}
